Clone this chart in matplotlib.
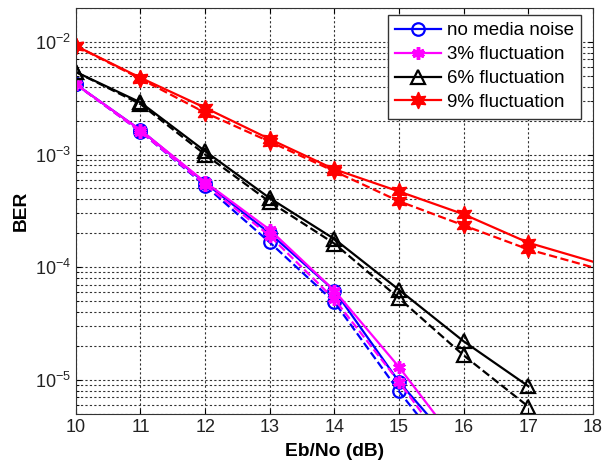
import matplotlib
matplotlib.use('Agg')
import matplotlib.pyplot as plt
import numpy as np

plt.rcParams['font.family'] = ['Liberation Sans', 'DejaVu Sans']

ebno = [10, 11, 12, 13, 14, 15, 16]
ebno_6 = [10, 11, 12, 13, 14, 15, 16, 17]
ebno_9 = [10, 11, 12, 13, 14, 15, 16, 17, 19]

ber_none_solid = [4.2e-3, 1.65e-3, 5.6e-4, 2.0e-4, 6.2e-5, 9.6e-6, 2.1e-6]
ber_none_dash = [4.2e-3, 1.6e-3, 5.3e-4, 1.66e-4, 4.9e-5, 7.9e-6, 1.5e-6]
ber_3_solid = [4.2e-3, 1.65e-3, 5.7e-4, 2.15e-4, 6.2e-5, 1.3e-5, 2.3e-6]
ber_3_dash = [4.2e-3, 1.6e-3, 5.4e-4, 1.9e-4, 5.2e-5, 9.6e-6, 1.6e-6]
ber_6_solid = [5.4e-3, 2.9e-3, 1.07e-3, 4.1e-4, 1.78e-4, 6.3e-5, 2.2e-5, 8.8e-6]
ber_6_dash = [5.4e-3, 2.8e-3, 1.0e-3, 3.8e-4, 1.62e-4, 5.3e-5, 1.65e-5, 5.8e-6]
ber_9_solid = [9.2e-3, 4.8e-3, 2.6e-3, 1.37e-3, 7.4e-4, 4.7e-4, 2.95e-4, 1.65e-4, 7.6e-5]
ber_9_dash = [9.2e-3, 4.7e-3, 2.35e-3, 1.3e-3, 7.1e-4, 3.85e-4, 2.35e-4, 1.44e-4, 6.9e-5]

labels = ['no media noise', '3% fluctuation', '6% fluctuation', '9% fluctuation']
xticks = [10, 11, 12, 13, 14, 15, 16, 17, 18]

fig = plt.figure(figsize=(6.02, 4.65), dpi=100)
ax = fig.add_axes([0.126, 0.11, 0.859, 0.873])

lw = 1.6
hexagram = (6, 1, 0)
asterisk = (6, 2, 0)

l1, = ax.semilogy(ebno, ber_none_solid, '-', color='#0000ff', lw=lw, marker='o', ms=9, mfc='none', mew=1.6)
ax.semilogy(ebno, ber_none_dash, '--', color='#0000ff', lw=lw, marker='o', ms=9, mfc='none', mew=1.6)
l2, = ax.semilogy(ebno, ber_3_solid, '-', color='#ff00ff', lw=lw, marker=asterisk, ms=9, mew=2.5)
ax.semilogy(ebno, ber_3_dash, '--', color='#ff00ff', lw=lw, marker=asterisk, ms=9, mew=2.5)
l3, = ax.semilogy(ebno_6, ber_6_solid, '-', color='black', lw=lw, marker='^', ms=10, mfc='none', mew=1.6)
ax.semilogy(ebno_6, ber_6_dash, '--', color='black', lw=lw, marker='^', ms=10, mfc='none', mew=1.6)
l4, = ax.semilogy(ebno_9, ber_9_solid, '-', color='#ff0000', lw=lw, marker=hexagram, ms=12, mfc='#ff0000', mew=1)
ax.semilogy(ebno_9, ber_9_dash, '--', color='#ff0000', lw=lw, marker=hexagram, ms=12, mfc='#ff0000', mew=1)

ax.set_xlim(10, 18)
ax.set_ylim(5e-6, 2e-2)
ax.set_xticks(xticks)
ax.set_xticklabels([str(t) for t in xticks])
ax.set_yticks([1e-5, 1e-4, 1e-3, 1e-2])
ax.set_yticklabels([r'$\mathregular{10^{-5}}$', r'$\mathregular{10^{-4}}$', r'$\mathregular{10^{-3}}$', r'$\mathregular{10^{-2}}$'])
ax.tick_params(axis='both', which='both', direction='in', top=True, right=True, labelsize=13, labelcolor='#222222')
ax.tick_params(axis='y', which='minor', labelleft=False)

ax.grid(True, which='major', axis='both', linestyle=(0, (2, 2)), color='#333333', lw=0.8)
ax.grid(True, which='minor', axis='y', linestyle=(0, (2, 2)), color='#333333', lw=0.8)
for s in ax.spines.values():
    s.set_color('#333333')

ax.set_xlabel('Eb/No (dB)', fontsize=13.8, fontweight='bold', labelpad=5)
ax.set_ylabel('BER', fontsize=13.8, fontweight='bold', labelpad=4)

leg = ax.legend([l1, l2, l3, l4], labels, loc='upper right', fontsize=13.5, frameon=True,
                fancybox=False, edgecolor='#333333', framealpha=1, handlelength=2.45,
                bbox_to_anchor=(0.977, 0.983), borderaxespad=0.0, labelspacing=0.36,
                handletextpad=0.3, borderpad=0.4)
leg.get_frame().set_linewidth(1.0)

fig.savefig('out.png', dpi=100)
